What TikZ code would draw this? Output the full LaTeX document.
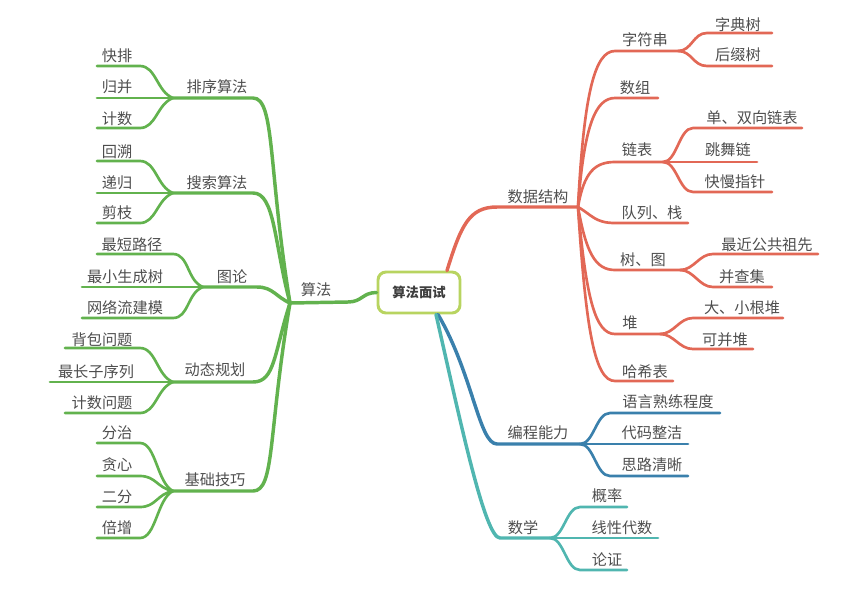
\documentclass[tikz,border=0pt]{standalone}
\usepackage{fontspec}
\newfontfamily\cjk{Noto Sans CJK SC}
\usetikzlibrary{calc}
\definecolor{cgreen}{RGB}{98,178,78}
\definecolor{cred}{RGB}{226,104,86}
\definecolor{cblue}{RGB}{58,128,172}
\definecolor{cteal}{RGB}{80,182,176}
\definecolor{croot}{RGB}{184,212,96}
\definecolor{ctext}{RGB}{78,78,78}
% a text label with its named underline ends
\newcommand\mmleaf[7]{%
  \node[txt] (#1) at (#3,#4) {#2};
  \coordinate (#1L) at (#5,#7);
  \coordinate (#1R) at (#6,#7);}
\tikzset{
  txt/.style={font=\cjk\fontsize{11.4}{13}\selectfont, text=ctext, inner sep=0pt},
  rootbox/.style={draw=croot, line width=2.2pt, rounded corners=6pt, fill=white,
    minimum width=61.5pt, minimum height=30.75pt, inner sep=0pt,
    font=\cjk\bfseries\fontsize{10}{12}\selectfont, text=ctext!80!black},
  twig/.style={line width=2pt, line cap=round},
  bough/.style={line width=2.6pt, line cap=round},
}
\begin{document}
\begin{tikzpicture}[x=0.75pt,y=-0.75pt]
\useasboundingbox (0,0) rectangle (845,597);

% ---------- root ----------
\node[rootbox] (root) at (419,292.5) {算法面试};

% ---------- left: 算法 ----------
\node[txt] (alg) at (316,290) {算法};
\coordinate (algH) at (290,303);
\coordinate (algR) at (348,302);

\mmleaf{px}{排序算法}{217}{87}{173}{253}{98}
\mmleaf{ss}{搜索算法}{217}{183}{173}{253}{193}
\mmleaf{tl}{图论}{232}{277}{203}{257}{287}
\mmleaf{dp}{动态规划}{215}{370}{173}{253}{382}
\mmleaf{jc}{基础技巧}{215}{480}{173}{253}{491}

\mmleaf{kp}{快排}{117}{56}{97}{140}{66}
\mmleaf{gb}{归并}{117}{87}{97}{173}{98}
\mmleaf{js}{计数}{117}{119}{97}{140}{128}
\mmleaf{hs}{回溯}{117}{152}{97}{140}{161}
\mmleaf{dg}{递归}{117}{183}{97}{173}{193}
\mmleaf{jz}{剪枝}{117}{213}{97}{140}{223}
\mmleaf{zd}{最短路径}{132}{245}{97}{173}{254}
\mmleaf{zx}{最小生成树}{125}{277}{82}{203}{287}
\mmleaf{wl}{网络流建模}{125}{308}{82}{173}{318}
\mmleaf{bb}{背包问题}{102}{340}{65}{140}{348}
\mmleaf{zc}{最长子序列}{96}{372}{50}{173}{382}
\mmleaf{jw}{计数问题}{102}{403}{65}{140}{413}
\mmleaf{fz}{分治}{117}{433}{97}{140}{443}
\mmleaf{tx}{贪心}{117}{465}{97}{140}{476}
\mmleaf{ef}{二分}{117}{497}{97}{140}{507}
\mmleaf{bz}{倍增}{117}{528}{97}{140}{538}

\begin{scope}[draw=cgreen]
  \draw[bough] (root.west) .. controls +(-14,0) and +(14,0) .. (algR) -- (algH);
  \draw[bough] (pxL) -- (pxR) .. controls +(22,0) and +(-22,-135) .. (algH);
  \draw[bough] (ssL) -- (ssR) .. controls +(22,0) and +(-16,-60) .. (algH);
  \draw[bough] (tlL) -- (tlR) .. controls +(16,0) and +(-14,-6) .. (algH);
  \draw[bough] (dpL) -- (dpR) .. controls +(22,0) and +(-16,50) .. (algH);
  \draw[bough] (jcL) -- (jcR) .. controls +(22,0) and +(-22,130) .. (algH);

  \draw[twig] (kpL) -- (kpR) .. controls +(16,0) and +(-16,-6) .. (pxL);
  \draw[twig] (gbL) -- (pxL);
  \draw[twig] (jsL) -- (jsR) .. controls +(16,0) and +(-16,6) .. (pxL);
  \draw[twig] (hsL) -- (hsR) .. controls +(16,0) and +(-16,-6) .. (ssL);
  \draw[twig] (dgL) -- (ssL);
  \draw[twig] (jzL) -- (jzR) .. controls +(16,0) and +(-16,6) .. (ssL);
  \draw[twig] (zdL) -- (zdR) .. controls +(16,0) and +(-16,-6) .. (tlL);
  \draw[twig] (zxL) -- (tlL);
  \draw[twig] (wlL) -- (wlR) .. controls +(16,0) and +(-16,6) .. (tlL);
  \draw[twig] (bbL) -- (bbR) .. controls +(16,0) and +(-16,-6) .. (dpL);
  \draw[twig] (zcL) -- (dpL);
  \draw[twig] (jwL) -- (jwR) .. controls +(16,0) and +(-16,6) .. (dpL);
  \draw[twig] (fzL) -- (fzR) .. controls +(16,0) and +(-16,-8) .. (jcL);
  \draw[twig] (txL) -- (txR) .. controls +(16,0) and +(-16,-3) .. (jcL);
  \draw[twig] (efL) -- (efR) .. controls +(16,0) and +(-16,3) .. (jcL);
  \draw[twig] (bzL) -- (bzR) .. controls +(16,0) and +(-16,8) .. (jcL);
\end{scope}

% ---------- right: 数据结构 ----------
\mmleaf{ds}{数据结构}{538}{197}{497}{578}{207}
\mmleaf{zf}{字符串}{645}{40}{615}{678}{51}
\mmleaf{sz}{数组}{635}{88}{615}{658}{98}
\mmleaf{lb}{链表}{637}{150}{615}{663}{162}
\mmleaf{dl}{队列、栈}{652}{213}{615}{688}{223}
\mmleaf{st}{树、图}{643}{260}{615}{680}{270}
\mmleaf{dui}{堆}{630}{323}{615}{660}{334}
\mmleaf{hx}{哈希表}{645}{372}{615}{673}{381}
\mmleaf{zdt}{字典树}{738}{25}{707}{772}{33}
\mmleaf{hzs}{后缀树}{738}{55}{707}{772}{66}
\mmleaf{sxl}{单、双向链表}{752}{118}{693}{802}{128}
\mmleaf{twl}{跳舞链}{728}{150}{693}{757}{162}
\mmleaf{kmz}{快慢指针}{735}{182}{693}{772}{192}
\mmleaf{zjg}{最近公共祖先}{767}{245}{713}{818}{254}
\mmleaf{bcj}{并查集}{742}{277}{713}{772}{287}
\mmleaf{dxg}{大、小根堆}{742}{308}{693}{783}{318}
\mmleaf{kbd}{可并堆}{725}{340}{693}{753}{349}

\begin{scope}[draw=cred]
  \draw[bough] ($(root.north)+(28,0)$) .. controls +(14,-45) and +(-28,0) .. (dsL) -- (dsR);
  \draw[twig] (dsR) .. controls +(6,-115) and +(-20,0) .. (zfL) -- (zfR);
  \draw[twig] (dsR) .. controls +(6,-80) and +(-20,0) .. (szL) -- (szR);
  \draw[twig] (dsR) .. controls +(6,-35) and +(-20,0) .. (lbL) -- (lbR);
  \draw[twig] (dsR) .. controls +(14,8) and +(-20,0) .. (dlL) -- (dlR);
  \draw[twig] (dsR) .. controls +(8,45) and +(-20,0) .. (stL) -- (stR);
  \draw[twig] (dsR) .. controls +(8,90) and +(-20,0) .. (duiL) -- (duiR);
  \draw[twig] (dsR) .. controls +(8,125) and +(-20,0) .. (hxL) -- (hxR);

  \draw[twig] (zfR) .. controls +(14,0) and +(-14,0) .. (zdtL) -- (zdtR);
  \draw[twig] (zfR) .. controls +(14,0) and +(-14,0) .. (hzsL) -- (hzsR);
  \draw[twig] (lbR) .. controls +(14,0) and +(-14,0) .. (sxlL) -- (sxlR);
  \draw[twig] (lbR) -- (twlR);
  \draw[twig] (lbR) .. controls +(14,0) and +(-14,0) .. (kmzL) -- (kmzR);
  \draw[twig] (stR) .. controls +(14,0) and +(-14,0) .. (zjgL) -- (zjgR);
  \draw[twig] (stR) .. controls +(14,0) and +(-14,0) .. (bcjL) -- (bcjR);
  \draw[twig] (duiR) .. controls +(14,0) and +(-14,0) .. (dxgL) -- (dxgR);
  \draw[twig] (duiR) .. controls +(14,0) and +(-14,0) .. (kbdL) -- (kbdR);
\end{scope}

% ---------- right: 编程能力 ----------
\mmleaf{bc}{编程能力}{538}{433}{497}{580}{444}
\mmleaf{yy}{语言熟练程度}{668}{402}{610}{720}{413}
\mmleaf{dm}{代码整洁}{652}{433}{610}{688}{444}
\mmleaf{sl}{思路清晰}{652}{465}{610}{688}{476}

\begin{scope}[draw=cblue]
  \draw[bough] ($(root.south)+(19,0)$) .. controls +(35,60) and +(-18,0) .. (bcL) -- (bcR);
  \draw[twig] (bcR) .. controls +(14,0) and +(-14,0) .. (yyL) -- (yyR);
  \draw[twig] (bcR) -- (dmR);
  \draw[twig] (bcR) .. controls +(14,0) and +(-14,0) .. (slL) -- (slR);
\end{scope}

% ---------- right: 数学 ----------
\mmleaf{sx}{数学}{523}{528}{500}{550}{538}
\mmleaf{gl}{概率}{607}{496}{580}{627}{507}
\mmleaf{xx}{线性代数}{622}{528}{580}{658}{538}
\mmleaf{lz}{论证}{607}{560}{580}{627}{570}

\begin{scope}[draw=cteal]
  \draw[bough] ($(root.south)+(17,0)$) .. controls +(25,110) and +(-15,0) .. (sxL) -- (sxR);
  \draw[twig] (sxR) .. controls +(14,0) and +(-14,0) .. (glL) -- (glR);
  \draw[twig] (sxR) -- (xxR);
  \draw[twig] (sxR) .. controls +(14,0) and +(-14,0) .. (lzL) -- (lzR);
\end{scope}
\end{tikzpicture}
\end{document}
